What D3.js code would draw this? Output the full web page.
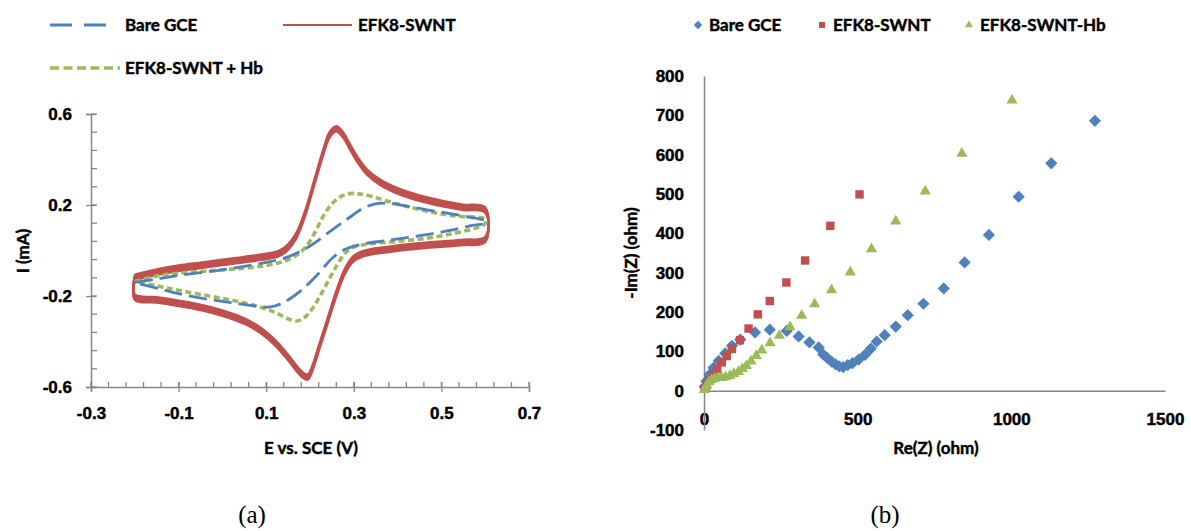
<!DOCTYPE html>
<html>
<head>
<meta charset="utf-8">
<script src="https://cdn.jsdelivr.net/npm/d3@7"></script>
<style>
  body { margin: 0; background: #fff; }
  svg { display: block; font-family: Lato, "Open Sans", sans-serif; }
  .tick-label { font-size: 17px; font-weight: bold; fill: #000; stroke: #000; stroke-width: 0.45px; }
</style>
</head>
<body>
<script>
// Cyclic voltammetry (a) and Nyquist plot (b)

const width = 1191;
const height = 531;

const cvSeries = ["Bare GCE", "EFK8-SWNT", "EFK8-SWNT + Hb"];
const eisSeries = ["Bare GCE", "EFK8-SWNT", "EFK8-SWNT-Hb"];

// [E (V), I (mA)], forward scan then reverse scan
const bareGceCV = [
  [-0.2, -0.14], [-0.15, -0.125], [-0.1, -0.11], [-0.05, -0.097], [0, -0.085], [0.05, -0.07],
  [0.1, -0.052], [0.15, -0.028], [0.2, 0.02], [0.25, 0.09], [0.29, 0.145], [0.32, 0.185],
  [0.35, 0.205], [0.38, 0.207], [0.42, 0.195], [0.47, 0.178], [0.52, 0.162], [0.56, 0.148], [0.6, 0.13],
  [0.6, 0.12], [0.57, 0.11], [0.52, 0.088], [0.45, 0.065], [0.38, 0.045], [0.32, 0.028],
  [0.28, 0.005], [0.25, -0.035], [0.22, -0.1], [0.18, -0.175], [0.14, -0.228], [0.11, -0.248],
  [0.08, -0.245], [0.03, -0.232], [-0.03, -0.215], [-0.1, -0.19], [-0.15, -0.165], [-0.2, -0.142]
];

const swntCV = [
  [-0.2, -0.118], [-0.15, -0.095], [-0.1, -0.078], [-0.05, -0.065], [0, -0.052], [0.05, -0.04],
  [0.1, -0.026], [0.13, -0.012], [0.15, 0.015], [0.17, 0.07], [0.19, 0.17], [0.21, 0.3],
  [0.23, 0.43], [0.245, 0.51], [0.26, 0.535], [0.275, 0.51], [0.29, 0.46], [0.31, 0.395],
  [0.33, 0.345], [0.36, 0.3], [0.4, 0.262], [0.45, 0.23], [0.5, 0.207], [0.55, 0.19], [0.6, 0.178],
  [0.6, 0.048], [0.55, 0.036], [0.5, 0.028], [0.45, 0.02], [0.4, 0.01], [0.35, -0.002],
  [0.32, -0.015], [0.3, -0.035], [0.28, -0.09], [0.26, -0.19], [0.24, -0.31], [0.22, -0.43],
  [0.205, -0.52], [0.195, -0.556], [0.185, -0.55], [0.17, -0.52], [0.15, -0.47], [0.12, -0.405],
  [0.09, -0.355], [0.05, -0.31], [0, -0.275], [-0.05, -0.25], [-0.1, -0.232], [-0.15, -0.217],
  [-0.2, -0.205], [-0.2, -0.118]
];

const swntHbCV = [
  [-0.2, -0.136], [-0.15, -0.112], [-0.1, -0.1], [-0.05, -0.092], [0, -0.085], [0.05, -0.078],
  [0.1, -0.066], [0.14, -0.048], [0.17, -0.02], [0.19, 0.015], [0.21, 0.075], [0.23, 0.15],
  [0.25, 0.205], [0.27, 0.237], [0.29, 0.25], [0.31, 0.249], [0.34, 0.238], [0.38, 0.215],
  [0.43, 0.19], [0.48, 0.168], [0.53, 0.152], [0.6, 0.138],
  [0.6, 0.118], [0.58, 0.1], [0.53, 0.076], [0.47, 0.055], [0.4, 0.04], [0.34, 0.03],
  [0.3, 0.015], [0.28, -0.012], [0.26, -0.07], [0.24, -0.14], [0.22, -0.21], [0.2, -0.27],
  [0.185, -0.298], [0.17, -0.31], [0.15, -0.3], [0.12, -0.272], [0.08, -0.245], [0.03, -0.222],
  [-0.03, -0.2], [-0.1, -0.175], [-0.15, -0.155], [-0.2, -0.136]
];

// [Re(Z), -Im(Z)] in ohm
const bareGceEIS = [
  [1272, 686], [1130, 578], [1024, 493], [927, 396], [848, 326], [780, 260], [714, 221],
  [663, 192], [624, 163], [588, 141], [562, 125], [543, 107], [524, 91], [503, 79], [483, 70],
  [468, 65], [453, 60], [440, 62], [428, 67], [415, 74], [401, 83], [388, 92], [373, 110],
  [343, 123], [308, 138], [269, 152], [214, 155], [166, 148], [118, 130], [91, 114], [69, 95],
  [48, 76], [31, 58], [18, 41], [8, 24], [2, 10]
];

const swntEIS = [
  [506, 499], [411, 419], [329, 331], [268, 275], [214, 228], [175, 194], [145, 158], [117, 128],
  [91, 106], [74, 88], [58, 72], [43, 55], [30, 40], [17, 26], [8, 14], [2, 5]
];

const swntHbEIS = [
  [1002, 738], [839, 603], [720, 507], [624, 431], [545, 360], [476, 301], [415, 256], [360, 220],
  [318, 191], [280, 162], [245, 140], [215, 121], [188, 103], [170, 89], [153, 75], [138, 63],
  [125, 56], [112, 48], [97, 43], [84, 38], [70, 35], [58, 33], [46, 33], [35, 31], [25, 28],
  [16, 22], [9, 14], [4, 7], [1, 2]
];

const colors = ["#4F81BD", "#C0504D", "#9BBB59"];
const axisColor = "#868686";

const svg = d3.select("body").append("svg")
  .attr("width", width)
  .attr("height", height);

svg.append("rect").attr("width", width).attr("height", height).attr("fill", "#fff");

// ---------- (a) cyclic voltammograms ----------
const xA = d3.scaleLinear().domain([-0.3, 0.7]).range([91, 529]);
const yA = d3.scaleLinear().domain([-0.6, 0.6]).range([387, 114]);

const gA = svg.append("g");

// minor ticks, pointing into the plot
const xMinor = d3.range(-0.3, 0.7001, 0.04);
const yMinor = d3.range(-0.6, 0.6001, 0.08);

gA.append("g").selectAll("line").data(xMinor).join("line")
  .attr("x1", d => xA(d)).attr("x2", d => xA(d))
  .attr("y1", yA(-0.6)).attr("y2", yA(-0.6) - 5)
  .attr("stroke", axisColor).attr("stroke-width", 1.3);

gA.append("g").selectAll("line").data(yMinor).join("line")
  .attr("x1", xA(-0.3)).attr("x2", xA(-0.3) + 6)
  .attr("y1", d => yA(d)).attr("y2", d => yA(d))
  .attr("stroke", axisColor).attr("stroke-width", 1.3);

const xAxisA = d3.axisBottom(xA).tickValues([-0.3, -0.1, 0.1, 0.3, 0.5, 0.7])
  .tickSize(5).tickPadding(15).tickFormat(d3.format(".1f"));
const yAxisA = d3.axisLeft(yA).tickValues([-0.6, -0.2, 0.2, 0.6])
  .tickSize(5).tickPadding(14).tickFormat(d3.format(".1f"));

const gxA = gA.append("g").attr("transform", `translate(0,${yA(-0.6)})`).call(xAxisA);
const gyA = gA.append("g").attr("transform", `translate(${xA(-0.3)},0)`).call(yAxisA);

[gxA, gyA].forEach(g => {
  g.select(".domain").attr("stroke", axisColor).attr("stroke-width", 1.5);
  g.selectAll(".tick line").attr("stroke", axisColor).attr("stroke-width", 1.3);
  g.selectAll(".tick text").attr("class", "tick-label").attr("fill", "#000")
    .text(d => d3.format(".1f")(d).replace("−", "-"));
});
gxA.selectAll(".tick line").attr("y1", -5);
gyA.selectAll(".tick line").attr("x1", 5);

gA.append("text").attr("class", "tick-label")
  .attr("x", 311).attr("y", 454).attr("text-anchor", "middle")
  .text("E vs. SCE (V)");
gA.append("text").attr("class", "tick-label")
  .attr("transform", "translate(29,251) rotate(-90)").attr("text-anchor", "middle")
  .text("I (mA)");

const lineA = d3.line()
  .x(d => xA(d[0])).y(d => yA(d[1]))
  .curve(d3.curveCatmullRom.alpha(0.5));

// the EFK8-SWNT trace is a stack of repeated scans, drawn as a thick band
const bandOffsets = [-2.8, -1.4, 0, 1.4, 2.8];
gA.append("g").selectAll("path").data(bandOffsets).join("path")
  .attr("d", lineA(swntCV))
  .attr("transform", d => `translate(0,${d})`)
  .attr("fill", "none").attr("stroke", colors[1]).attr("stroke-width", 2.2);

gA.append("path").attr("d", lineA(swntHbCV))
  .attr("fill", "none").attr("stroke", colors[2]).attr("stroke-width", 3.6)
  .attr("stroke-dasharray", "6,3.5");

gA.append("path").attr("d", lineA(bareGceCV))
  .attr("fill", "none").attr("stroke", colors[0]).attr("stroke-width", 2.8)
  .attr("stroke-dasharray", "18,7");

// legend (a)
const legendA = [
  { x: 50, y: 25, w: 62, dash: "22,12", width: 2.8 },
  { x: 283, y: 25, w: 69, dash: null, width: 1.8 },
  { x: 50, y: 68, w: 70, dash: "9,4.5", width: 3.5 }
];
legendA.forEach((l, i) => {
  gA.append("line")
    .attr("x1", l.x).attr("x2", l.x + l.w).attr("y1", l.y).attr("y2", l.y)
    .attr("stroke", colors[i]).attr("stroke-width", l.width)
    .attr("stroke-dasharray", l.dash);
  gA.append("text").attr("class", "tick-label")
    .attr("x", l.x + 75).attr("y", l.y + 6)
    .text(cvSeries[i]);
});

// ---------- (b) Nyquist plot ----------
const xB = d3.scaleLinear().domain([0, 1500]).range([704, 1165]);
const yB = d3.scaleLinear().domain([-100, 800]).range([430, 76]);

const gB = svg.append("g");

const xAxisB = d3.axisBottom(xB).ticks(3).tickSize(0).tickPadding(22);
const yAxisB = d3.axisLeft(yB).ticks(9).tickSize(0).tickPadding(20);

const gxB = gB.append("g").attr("transform", `translate(0,${yB(0)})`).call(xAxisB);
const gyB = gB.append("g").attr("transform", `translate(${xB(0)},0)`).call(yAxisB);

[gxB, gyB].forEach(g => {
  g.select(".domain").attr("stroke", axisColor).attr("stroke-width", 1.5);
  g.selectAll(".tick text").attr("class", "tick-label").attr("fill", "#000")
    .text(d => String(d));
});

gB.append("text").attr("class", "tick-label")
  .attr("x", 936).attr("y", 454).attr("text-anchor", "middle")
  .text("Re(Z) (ohm)");
gB.append("text").attr("class", "tick-label")
  .attr("transform", "translate(637,253) rotate(-90)").attr("text-anchor", "middle")
  .text("-Im(Z) (ohm)");

const symbols = [d3.symbolDiamond2, d3.symbolSquare2, d3.symbolTriangle2];
const symbolSizes = [95, 90, 90];
const eisData = [bareGceEIS, swntEIS, swntHbEIS];

eisData.forEach((data, i) => {
  const sym = d3.symbol().type(symbols[i]).size(symbolSizes[i]);
  gB.append("g").selectAll("path").data(data).join("path")
    .attr("d", sym)
    .attr("transform", d => `translate(${xB(d[0])},${yB(d[1])})`)
    .attr("fill", colors[i]);
});

// legend (b)
const legendB = [698, 822, 969];
legendB.forEach((x, i) => {
  gB.append("path")
    .attr("d", d3.symbol().type(symbols[i]).size(45)())
    .attr("transform", `translate(${x},25)`)
    .attr("fill", colors[i]);
  gB.append("text").attr("class", "tick-label")
    .attr("x", x + 11).attr("y", 31)
    .text(eisSeries[i]);
});

// captions
svg.selectAll(".caption").data(["(a)", "(b)"]).join("text")
  .attr("class", "caption")
  .attr("x", (d, i) => i === 0 ? 252 : 885)
  .attr("y", 523)
  .attr("text-anchor", "middle")
  .attr("font-family", "'Liberation Serif', 'Times New Roman', serif")
  .attr("font-size", 25)
  .text(d => d);
</script>
</body>
</html>
